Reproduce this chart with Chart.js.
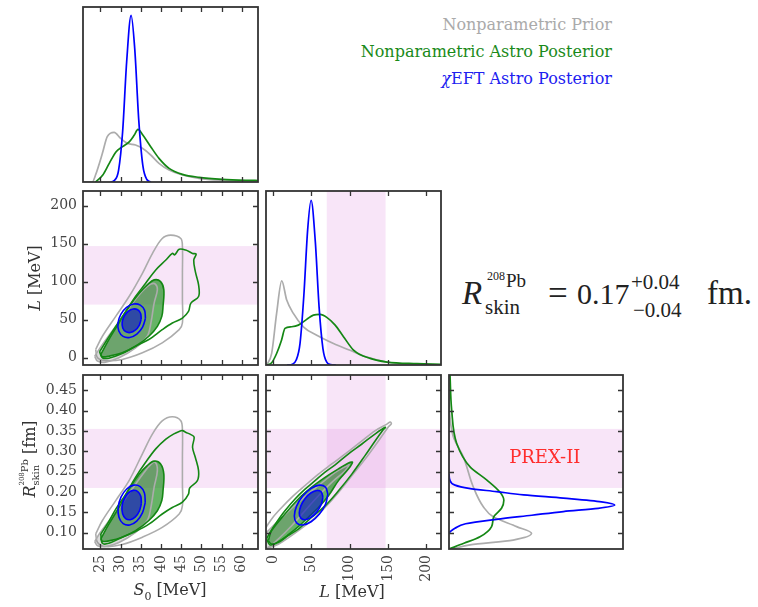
<!DOCTYPE html>
<html>
<head>
<meta charset="utf-8">
<script src="https://cdn.jsdelivr.net/npm/chart.js@4.4.1/dist/chart.umd.min.js"></script>
<style>
  body { margin: 0; background: #fff; width: 758px; height: 607px; position: relative; overflow: hidden; font-family: "DejaVu Serif", serif; }
  canvas { position: absolute; }
  .txt { position: absolute; white-space: nowrap; line-height: 1; }
  .rot { transform: translate(-50%, -50%) rotate(-90deg); color: #333; font-size: 16px; }
  .hc { transform: translate(-50%, -50%); color: #333; font-size: 16px; }
  .eq { position: absolute; white-space: nowrap; line-height: 1; font-family: "Liberation Serif", serif; color: #222; }
  .ss { display: inline-block; vertical-align: middle; font-size: 10px; line-height: 1.05; text-align: left; }
  .ss span { display: block; }
</style>
</head>
<body>

<canvas id="p1" width="181" height="181" style="left:80px;top:4px"></canvas>
<canvas id="p2" width="261" height="180" style="left:0px;top:188px"></canvas>
<canvas id="p3" width="181" height="180" style="left:263px;top:188px"></canvas>
<canvas id="p4" width="261" height="235" style="left:0px;top:372px"></canvas>
<canvas id="p5" width="181" height="235" style="left:263px;top:372px"></canvas>
<canvas id="p6" width="180" height="180" style="left:446px;top:372px"></canvas>

<!-- legend -->
<div class="txt" style="right:146px;top:17px;font-size:16px;color:#aaaaaa">Nonparametric Prior</div>
<div class="txt" style="right:146px;top:44px;font-size:16px;color:#1a8a1a">Nonparametric Astro Posterior</div>
<div class="txt" style="right:146px;top:71px;font-size:16px;color:#2020f0"><i>χ</i>EFT Astro Posterior</div>

<!-- axis titles -->
<div class="txt rot" style="left:35px;top:278px"><i>L</i> [MeV]</div>
<div class="txt rot" style="left:30px;top:459px"><i>R</i><span class="ss"><span><sup style="font-size:7px">208</sup>Pb</span><span>skin</span></span> [fm]</div>
<div class="txt hc" style="left:170px;top:592px"><i>S</i><sub style="font-size:11px">0</sub> [MeV]</div>
<div class="txt hc" style="left:352px;top:592px"><i>L</i> [MeV]</div>

<!-- equation -->
<span class="eq" style="left:462px;top:277px;font-size:33px;font-style:italic">R</span>
<span class="eq" style="left:487px;top:270px;font-size:12px">208</span>
<span class="eq" style="left:506px;top:271px;font-size:19px">Pb</span>
<span class="eq" style="left:485px;top:297px;font-size:21px">skin</span>
<span class="eq" style="left:548px;top:276px;font-size:35px">=</span>
<span class="eq" style="left:577px;top:279px;font-size:30px">0.17</span>
<span class="eq" style="left:631px;top:272px;font-size:21px">+0.04</span>
<span class="eq" style="left:633px;top:300px;font-size:21px">−0.04</span>
<span class="eq" style="left:707px;top:277px;font-size:33px">fm.</span>

<script>
// axis limits and tick labels
const S0_RANGE = [20.7, 64.0];
const L_RANGE = [-9.5, 219.5];
const R_RANGE = [0.06, 0.4876];
const DENS_RANGE = [0, 1.05];
const S0_TICKS = [25, 30, 35, 40, 45, 50, 55, 60];
const L_TICKS = [0, 50, 100, 150, 200];
const R_TICKS = [0.10, 0.15, 0.20, 0.25, 0.30, 0.35, 0.40, 0.45];

// PREX-II constraint bands
const PREX_L = [70, 147];
const PREX_R = [0.21, 0.355];

// 1D marginals (value, relative density)
const S0_PRIOR = [[20.7,0],[23.0,0],[23.8,0.042],[25.5,0.172],[26.7,0.272],[28.4,0.298],[30.0,0.262],[31.7,0.232],[33.7,0.222],[35.4,0.202],[37.45,0.162],[39.5,0.112],[42.0,0.072],[45.3,0.042],[49.4,0.022],[55.2,0.01],[61.8,0.004],[64,0.003]];
const S0_ASTRO = [[23.8,0],[25.6,0.042],[27.2,0.112],[28.9,0.182],[30.5,0.212],[32.2,0.242],[33.4,0.282],[34.3,0.316],[35.5,0.282],[37.45,0.212],[39.5,0.142],[42.0,0.082],[45.3,0.046],[49.4,0.028],[55.2,0.016],[61.8,0.01],[64,0.009]];
const S0_CHIEFT = [[27.5,0],[28.5,0.01],[29.5,0.07],[30.5,0.3],[31.5,0.72],[32.6,1.0],[33.5,0.8],[34.5,0.37],[35.5,0.1],[36.5,0.015],[37.5,0]];

const L_PRIOR = [[-8.7,0],[-2.1,0.071],[4.4,0.313],[11.1,0.511],[17.6,0.394],[26.3,0.313],[39.4,0.232],[56.9,0.18],[78.8,0.13],[100.6,0.089],[122.5,0.048],[148.7,0.018],[179.3,0.004],[219.5,0]];
const L_ASTRO = [[-8.7,0],[-2.1,0.014],[4.4,0.07],[10.9,0.152],[15.3,0.222],[24.1,0.232],[32.8,0.242],[43.7,0.277],[52.5,0.303],[61.2,0.307],[70,0.289],[81,0.242],[91.9,0.172],[105,0.091],[126.9,0.04],[148.7,0.018],[188,0.008],[219.5,0.004]];
const L_CHIEFT = [[18,0],[25,0.005],[30,0.03],[35,0.13],[40,0.42],[45,0.82],[49.5,1.0],[55,0.75],[60,0.35],[65,0.1],[70,0.017],[75,0.003],[82,0]];

// R marginal is drawn sideways: (R, density)
const R_PRIOR = [[0.06,0.02],[0.063,0.046],[0.07,0.127],[0.082,0.387],[0.0985,0.498],[0.115,0.408],[0.139,0.267],[0.164,0.207],[0.213,0.146],[0.287,0.086],[0.336,0.026],[0.40,0.003],[0.45,0]];
const R_ASTRO = [[0.06,0],[0.074,0.09],[0.09,0.187],[0.115,0.257],[0.139,0.27],[0.16,0.317],[0.18,0.331],[0.2,0.307],[0.23,0.227],[0.262,0.127],[0.32,0.046],[0.402,0.016],[0.4876,0.006]];
const R_CHIEFT = [[0.10,0],[0.111,0.036],[0.122,0.1],[0.133,0.287],[0.143,0.5],[0.152,0.69],[0.16,0.9],[0.168,1.0],[0.176,0.92],[0.185,0.69],[0.193,0.45],[0.201,0.287],[0.209,0.12],[0.217,0.036],[0.23,0.005],[0.245,0]];

// 2D credible contours, S0 vs L
const GRAY95_S0_L = [[23.84,10.9],[25.5,28.3],[28.8,54.5],[32.1,80.6],[35.4,111.2],[37.9,137.4],[40.3,157],[42.4,161.4],[44.9,157],[45.3,146],[45.3,111.2],[45.3,76.3],[45.3,45.8],[44.5,37],[40.3,19.6],[35.4,6.5],[30.4,-2.2],[26.3,-3.7],[24.3,0],[23.84,10.9]];
const GRAY68_S0_L = [[23.6,2],[24.8,12],[27.2,30],[30.3,52],[33.4,75],[35.8,90],[37.5,97],[38.6,97],[39.1,89.4],[38.3,72],[37.5,45.8],[36.6,28.3],[33.7,13],[29.6,0],[26.3,-5.7],[24.3,-4.4],[23.6,2]];
const GREEN95_S0_L = [[24.8,8],[26.7,24],[28.8,41.4],[31.3,61],[33.7,80.6],[36.2,98.2],[38.7,115.6],[41.2,128.7],[42.8,137.4],[43.4,135.5],[44.5,142.7],[46.1,141.8],[47.8,137.4],[48.7,136.5],[48.1,128.7],[48.5,113.4],[49.3,95.9],[49.3,80.6],[47.4,72],[46.8,61],[45.3,52.3],[42.8,45.8],[40.3,37],[37.0,24],[33.7,15.2],[30.4,5.5],[27.1,-0.5],[25.5,0],[24.8,8]];
const GREEN68_S0_L = [[25.1,4.3],[27.1,24],[29.6,45.8],[32.1,67.5],[34.6,85],[36.6,95.9],[38.3,102.5],[39.9,100.3],[40.7,89.4],[40.5,67.5],[40.2,54.5],[39.1,41.4],[37.0,28.3],[33.7,15.2],[30.4,6.5],[27.1,2.1],[25.5,1.3],[25.1,4.3]];
const BLUE95_S0_L = [[36.15,51.8],[35.94,62.4],[34.88,69.35],[33.25,70.8],[31.48,66.35],[30.06,57.2],[29.35,45.8],[29.56,35.2],[30.62,28.25],[32.25,26.8],[34.02,31.25],[35.44,40.4],[36.15,51.8]];
const BLUE68_S0_L = [[35.1,50.8],[34.96,58.3],[34.23,63.2],[33.1,64.3],[31.88,61.2],[30.89,54.8],[30.4,46.8],[30.54,39.3],[31.27,34.4],[32.4,33.3],[33.62,36.4],[34.61,42.8],[35.1,50.8]];

// S0 vs R
const GRAY95_S0_R = [[23.84,0.097],[25.5,0.130],[28.8,0.179],[32.1,0.228],[35.4,0.294],[37.9,0.343],[40.3,0.375],[42.8,0.385],[44.9,0.375],[45.3,0.351],[45.3,0.285],[45.3,0.220],[45.3,0.166],[44.5,0.146],[40.3,0.113],[35.4,0.089],[30.4,0.071],[26.3,0.066],[24.3,0.076],[23.84,0.097]];
const GRAY68_S0_R = [[23.6,0.078],[24.8,0.098],[27.2,0.13],[30.3,0.17],[33.4,0.215],[35.8,0.248],[37.5,0.268],[38.6,0.273],[39.1,0.252],[38.3,0.212],[37.5,0.162],[36.6,0.13],[33.7,0.101],[29.6,0.076],[26.3,0.066],[24.3,0.068],[23.6,0.078]];
const GREEN95_S0_R = [[25.1,0.097],[26.7,0.121],[28.8,0.158],[31.3,0.195],[33.7,0.236],[36.2,0.273],[38.7,0.306],[41.2,0.330],[43.2,0.343],[44.5,0.349],[45.3,0.351],[46.1,0.347],[47.4,0.341],[48.2,0.335],[47.8,0.310],[48.5,0.285],[49.3,0.252],[49.0,0.228],[47.1,0.210],[46.8,0.195],[45.3,0.175],[42.8,0.162],[40.3,0.146],[37.0,0.121],[33.7,0.103],[30.4,0.089],[27.1,0.074],[25.5,0.074],[25.1,0.097]];
const GREEN68_S0_R = [[25.1,0.085],[27.1,0.121],[29.6,0.162],[32.1,0.207],[34.6,0.244],[36.6,0.265],[38.3,0.276],[39.9,0.269],[40.7,0.244],[40.5,0.203],[40.2,0.179],[39.1,0.154],[37.0,0.130],[33.7,0.105],[30.4,0.089],[27.1,0.080],[25.5,0.079],[25.1,0.085]];
const BLUE95_S0_R = [[36.1,0.174],[35.9,0.1977],[34.86,0.2134],[33.25,0.217],[31.51,0.2074],[30.1,0.1873],[29.4,0.162],[29.6,0.1383],[30.64,0.1226],[32.25,0.119],[33.99,0.1286],[35.4,0.1487],[36.1,0.174]];
const BLUE68_S0_R = [[35.15,0.172],[35.0,0.1895],[34.25,0.2012],[33.1,0.204],[31.85,0.1972],[30.85,0.1825],[30.35,0.164],[30.5,0.1465],[31.25,0.1348],[32.4,0.132],[33.65,0.1388],[34.65,0.1535],[35.15,0.172]];

// L vs R
const GRAY95_L_R = [[-10.9,0.109],[-2.1,0.134],[11,0.162],[24.1,0.187],[41.6,0.216],[59.1,0.244],[76.6,0.269],[98.5,0.300],[116,0.326],[133.5,0.351],[148.8,0.367],[153.1,0.372],[154.5,0.368],[151,0.361],[137.8,0.326],[120.3,0.281],[102.8,0.240],[85.3,0.199],[67.8,0.162],[50.3,0.130],[32.8,0.105],[15.3,0.082],[2.2,0.068],[-10.9,0.064],[-10.9,0.109]];
const GRAY68_L_R = [[-10.9,0.0968],[6.6,0.1295],[32.8,0.1747],[59.1,0.2156],[81,0.2485],[96.3,0.2647],[99.3,0.2672],[94.1,0.2524],[76.6,0.2239],[59.1,0.191],[41.6,0.1541],[24.1,0.1172],[6.6,0.0845],[-6.5,0.0641],[-10.9,0.068],[-10.9,0.0968]];
const GREEN95_L_R = [[-8.7,0.085],[-4.3,0.101],[4.4,0.126],[15.3,0.154],[28.5,0.183],[41.6,0.207],[54.7,0.228],[67.8,0.249],[81,0.267],[98.5,0.294],[116,0.318],[133.5,0.343],[146.6,0.359],[143.1,0.351],[133.5,0.326],[120.3,0.29],[102.8,0.244],[85.3,0.203],[67.8,0.166],[50.3,0.138],[32.8,0.109],[19.7,0.093],[6.6,0.076],[-4.3,0.07],[-8.7,0.085]];
const GREEN68_L_R = [[-6.5,0.080],[-2.1,0.105],[15.3,0.146],[32.8,0.183],[50.3,0.212],[67.8,0.236],[85.3,0.257],[100.7,0.273],[103.7,0.273],[98.5,0.257],[85.3,0.228],[72.2,0.191],[59.1,0.162],[45.9,0.138],[32.8,0.115],[19.7,0.095],[6.6,0.078],[-2.1,0.072],[-6.5,0.080]];
const BLUE95_L_R = [[71.4,0.1947],[68.47,0.2117],[60.45,0.2169],[49.5,0.2091],[38.55,0.1902],[30.53,0.1654],[27.6,0.1413],[30.53,0.1243],[38.55,0.1191],[49.5,0.1269],[60.45,0.1458],[68.47,0.1706],[71.4,0.1947]];
const BLUE68_L_R = [[65.0,0.1876],[62.9,0.2001],[57.25,0.2039],[49.5,0.1982],[41.75,0.1843],[36.1,0.1661],[34.0,0.1484],[36.1,0.1359],[41.75,0.132],[49.5,0.1378],[57.25,0.1517],[62.9,0.1699],[65.0,0.1876]];

const GRAY = 'rgb(172,172,172)';
const GREEN = 'rgb(20,135,20)';
const BLUE = 'rgb(0,0,255)';
const BAND = 'rgba(218,112,214,0.18)';
const GRAY_FILL = 'rgba(125,125,125,0.28)';
const GREEN_FILL = 'rgba(0,128,0,0.6)';
const BLUE_FILL = 'rgba(10,20,200,0.62)';
const TICK_FONT = { family: '"DejaVu Serif", serif', size: 14 };

const pts = arr => arr.map(([x, y]) => ({ x, y }));
const ptsSide = arr => arr.map(([r, d]) => ({ x: d, y: r }));

function curve(data, color, order) {
  return { data, borderColor: color, borderWidth: 1.7, pointRadius: 0, fill: false,
           cubicInterpolationMode: 'monotone', order };
}

// outline and/or fill of one closed contour
function contour(data, color, fillColor, order) {
  return { data: pts(data), borderColor: color || 'transparent', borderWidth: color ? 1.6 : 0,
           pointRadius: 0, tension: 0.35, fill: fillColor ? 'shape' : false,
           backgroundColor: fillColor || 'transparent', order };
}

// the contour layers of one 2D panel, bottom layer last
function contourSet(blue95, blue68, green95, green68, gray68, gray95) {
  return [
    contour(blue95, BLUE, null, 1),
    contour(blue68, BLUE, BLUE_FILL, 2),
    contour(green95, GREEN, null, 3),
    contour(green68, GREEN, null, 4),
    contour(gray68, GRAY, GRAY_FILL, 5),
    contour(green68, null, GREEN_FILL, 6),
    contour(gray95, GRAY, null, 7)
  ];
}

// shaded PREX-II bands, drawn under the data
function bands(xBand, yBand) {
  return {
    id: 'bands',
    beforeDatasetsDraw(chart) {
      const { ctx, chartArea: a, scales: { x, y } } = chart;
      ctx.save();
      ctx.fillStyle = BAND;
      if (xBand) {
        const l = x.getPixelForValue(xBand[0]), r = x.getPixelForValue(xBand[1]);
        ctx.fillRect(l, a.top, r - l, a.height);
      }
      if (yBand) {
        const t = y.getPixelForValue(yBand[1]), b = y.getPixelForValue(yBand[0]);
        ctx.fillRect(a.left, t, a.width, b - t);
      }
      ctx.restore();
    }
  };
}

// box frame with matplotlib style inward ticks on all sides
function frame(xTicks, yTicks) {
  return {
    id: 'frame',
    afterDatasetsDraw(chart) {
      const { ctx, chartArea: a, scales: { x, y } } = chart;
      ctx.save();
      ctx.strokeStyle = '#333';
      ctx.lineWidth = 1.3;
      ctx.beginPath();
      (xTicks || []).forEach(v => {
        const px = Math.round(x.getPixelForValue(v)) + 0.5;
        ctx.moveTo(px, a.top); ctx.lineTo(px, a.top + 5);
        ctx.moveTo(px, a.bottom); ctx.lineTo(px, a.bottom - 5);
      });
      (yTicks || []).forEach(v => {
        const py = Math.round(y.getPixelForValue(v)) + 0.5;
        ctx.moveTo(a.left, py); ctx.lineTo(a.left + 5, py);
        ctx.moveTo(a.right, py); ctx.lineTo(a.right - 5, py);
      });
      ctx.stroke();
      ctx.lineWidth = 1.8;
      ctx.strokeRect(a.left, a.top, a.width, a.height);
      ctx.restore();
    }
  };
}

function note(text, xv, yv) {
  return {
    id: 'note',
    afterDatasetsDraw(chart) {
      const { ctx, scales: { x, y } } = chart;
      ctx.save();
      ctx.font = '18px "DejaVu Serif", serif';
      ctx.fillStyle = 'rgb(255,45,45)';
      ctx.textAlign = 'center';
      ctx.textBaseline = 'middle';
      ctx.fillText(text, x.getPixelForValue(xv), y.getPixelForValue(yv));
      ctx.restore();
    }
  };
}

// one linear axis; size fixes the room left for labels so the panels line up
function axis(range, ticks, show, size, fmt, rot) {
  return {
    type: 'linear', min: range[0], max: range[1], display: show,
    grid: { display: false, drawTicks: false },
    border: { display: false },
    afterBuildTicks: s => { s.ticks = ticks.map(v => ({ value: v })); },
    ticks: { font: TICK_FONT, color: '#444', padding: 6, autoSkip: false,
             minRotation: rot || 0, maxRotation: rot || 0,
             callback: fmt || (v => String(v)) },
    afterFit: s => {
      if (s.isHorizontal()) s.height = size; else s.width = size;
      s.paddingTop = s.paddingBottom = s.paddingLeft = s.paddingRight = 0;
    }
  };
}

function panel(id, datasets, scales, padding, plugins, indexAxis) {
  return new Chart(document.getElementById(id), {
    type: 'line',
    data: { datasets },
    options: {
      responsive: false, animation: false, devicePixelRatio: 1,
      indexAxis: indexAxis || 'x',
      layout: { padding, autoPadding: false },
      plugins: { legend: { display: false }, tooltip: { enabled: false } },
      scales
    },
    plugins
  });
}

const rFmt = v => v.toFixed(2);
const pad = { left: 3, right: 3, top: 3, bottom: 3 };

// top-left: S0 marginal
panel('p1', [
  curve(pts(S0_CHIEFT), BLUE, 1),
  curve(pts(S0_ASTRO), GREEN, 2),
  curve(pts(S0_PRIOR), GRAY, 3)
], {
  x: axis(S0_RANGE, S0_TICKS, false, 0),
  y: axis(DENS_RANGE, [], false, 0)
}, pad, [frame(S0_TICKS, null)]);

// S0 vs L
panel('p2', contourSet(BLUE95_S0_L, BLUE68_S0_L, GREEN95_S0_L, GREEN68_S0_L, GRAY68_S0_L, GRAY95_S0_L), {
  x: axis(S0_RANGE, S0_TICKS, false, 0),
  y: axis(L_RANGE, L_TICKS, true, 83)
}, { left: 0, right: 3, top: 3, bottom: 3 }, [bands(null, PREX_L), frame(S0_TICKS, L_TICKS)]);

// L marginal
panel('p3', [
  curve(pts(L_CHIEFT), BLUE, 1),
  curve(pts(L_ASTRO), GREEN, 2),
  curve(pts(L_PRIOR), GRAY, 3)
], {
  x: axis(L_RANGE, L_TICKS, false, 0),
  y: axis([0, 1.056], [], false, 0)
}, pad, [bands(PREX_L, null), frame(L_TICKS, null)]);

// S0 vs R
panel('p4', contourSet(BLUE95_S0_R, BLUE68_S0_R, GREEN95_S0_R, GREEN68_S0_R, GRAY68_S0_R, GRAY95_S0_R), {
  x: axis(S0_RANGE, S0_TICKS, true, 58, null, 90),
  y: axis(R_RANGE, R_TICKS, true, 83, rFmt)
}, { left: 0, right: 3, top: 3, bottom: 0 }, [bands(null, PREX_R), frame(S0_TICKS, R_TICKS)]);

// L vs R
panel('p5', contourSet(BLUE95_L_R, BLUE68_L_R, GREEN95_L_R, GREEN68_L_R, GRAY68_L_R, GRAY95_L_R), {
  x: axis(L_RANGE, L_TICKS, true, 58, null, 90),
  y: axis(R_RANGE, R_TICKS, false, 0)
}, { left: 3, right: 3, top: 3, bottom: 0 }, [bands(PREX_L, PREX_R), frame(L_TICKS, R_TICKS)]);

// R marginal, drawn sideways
panel('p6', [
  curve(ptsSide(R_CHIEFT), BLUE, 1),
  curve(ptsSide(R_ASTRO), GREEN, 2),
  curve(ptsSide(R_PRIOR), GRAY, 3)
], {
  x: axis(DENS_RANGE, [], false, 0),
  y: axis(R_RANGE, R_TICKS, false, 0)
}, pad, [bands(null, PREX_R), frame(null, R_TICKS), note('PREX-II', 0.578, 0.2837)], 'y');
</script>
</body>
</html>
